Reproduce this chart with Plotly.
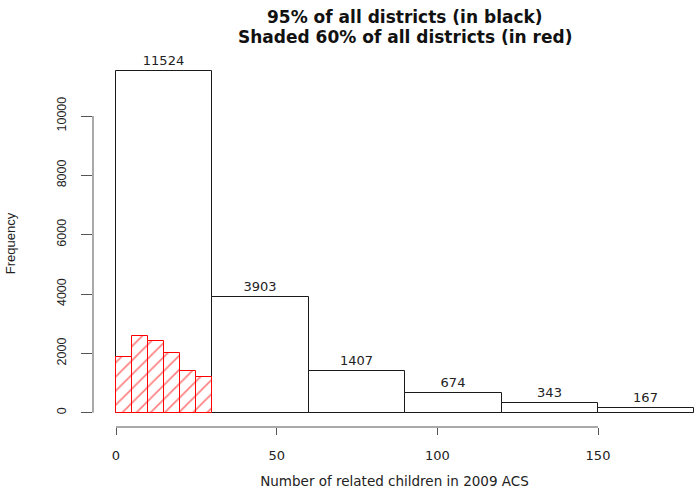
import numpy as np
import plotly.graph_objects as go

# ---- data ----
bin_edges = [0, 30, 60, 90, 120, 150, 180]
bin_counts = [11524, 3903, 1407, 674, 343, 167]
shade_edges = [0, 5, 10, 15, 20, 25, 30]
shade_counts = [1870, 2590, 2400, 2010, 1420, 1200]
x_ticks = [0, 50, 100, 150]
y_ticks = [0, 2000, 4000, 6000, 8000, 10000]
title_lines = ["95% of all districts (in black)", "Shaded 60% of all districts (in red)"]
x_title = "Number of related children in 2009 ACS"
y_title = "Frequency"

be = np.array(bin_edges, dtype=float)
se = np.array(shade_edges, dtype=float)

W, H = 696, 491
ml, mr, mt, mb = 93, 0, 60, 64

fig = go.Figure()
fig.add_trace(go.Bar(
    x=(be[:-1] + be[1:]) / 2, y=bin_counts, width=np.diff(be),
    marker=dict(color="white", line=dict(color="#1a1a1a", width=1)),
    text=[str(c) for c in bin_counts], textposition="outside",
    textfont=dict(family="DejaVu Sans", size=13, color="#222"),
    cliponaxis=False, showlegend=False, hoverinfo="skip",
))
fig.add_trace(go.Bar(
    x=(se[:-1] + se[1:]) / 2, y=shade_counts, width=np.diff(se),
    marker=dict(color="white", line=dict(color="#ff0000", width=1),
                pattern=dict(shape="/", fgcolor="#ff0000", bgcolor="white",
                             size=10, solidity=0.17)),
    showlegend=False, hoverinfo="skip",
))

# R-style axis lines spanning only the tick range
fig.add_shape(type="line", xref="paper", yref="y", x0=0, x1=0,
              y0=y_ticks[0], y1=y_ticks[-1], line=dict(color="#555", width=1))
fig.add_shape(type="line", xref="x", yref="paper", x0=x_ticks[0], x1=x_ticks[-1],
              y0=0, y1=0, line=dict(color="#555", width=1))

px_per_unit = (598 - 116) / 150.0
x0 = (ml - 116) / px_per_unit
x1 = (W - 116) / px_per_unit
upp = 10000 / (412.7 - 116)
y0 = -(427 - 412.7) * upp
y1 = (412.7 - mt) * upp

fig.update_layout(
    width=W, height=H, margin=dict(l=ml, r=mr, t=mt, b=mb, pad=0),
    paper_bgcolor="white", plot_bgcolor="white", barmode="overlay",
    bargap=0,
    font=dict(family="DejaVu Sans", color="#111"),
)
fig.update_xaxes(range=[x0, x1], showgrid=False, zeroline=False, showline=False,
                 tickmode="array", tickvals=x_ticks, ticktext=[str(v) for v in x_ticks],
                 ticks="outside", ticklen=7,
                 tickcolor="#555", tickwidth=1, ticklabelstandoff=9,
                 tickfont=dict(family="DejaVu Sans", size=13, color="#222"),
                 title=dict(text=x_title, standoff=14,
                            font=dict(family="DejaVu Sans", size=13.5, color="#222")))
fig.update_yaxes(range=[y0, y1], showgrid=False, zeroline=False, showline=False,
                 tickmode="array", tickvals=y_ticks, ticktext=[str(v) for v in y_ticks],
                 ticks="outside", ticklen=11,
                 tickcolor="#555", tickwidth=1, tickangle=-90, ticklabelstandoff=10,
                 tickfont=dict(family="Liberation Sans", size=12.5, color="#222"),
                 title=dict(text=y_title, standoff=36,
                            font=dict(family="Liberation Sans", size=13, color="#222")))

pw = W - ml - mr
ph = H - mt - mb
for line, ypix in zip(title_lines, [17, 37]):
    fig.add_annotation(text="<b>%s</b>" % line, xref="paper", yref="paper",
                       x=(405 - ml) / pw, y=(H - mb - ypix) / ph,
                       xanchor="center", yanchor="middle", showarrow=False,
                       font=dict(family="DejaVu Sans", size=17, color="#111"))

fig.write_html("out.html")
